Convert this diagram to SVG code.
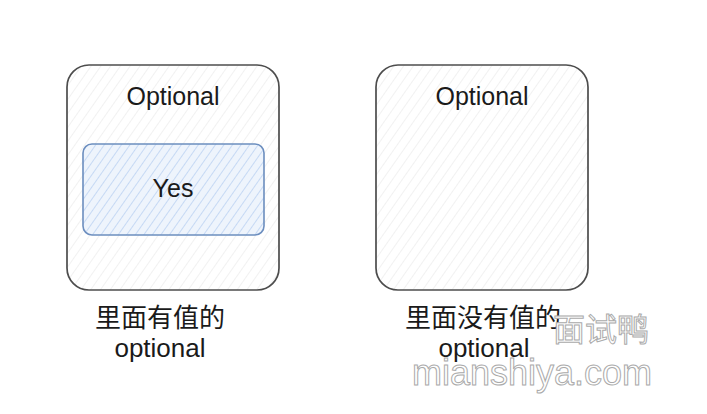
<svg xmlns="http://www.w3.org/2000/svg" width="707" height="414" viewBox="0 0 707 414">
<style>
.t{font-family:"Liberation Sans",Arial,"Noto Sans CJK SC",sans-serif;fill:#1a1a1a;text-anchor:middle}
.outer{fill:url(#hatchG);stroke:#4d4d4d;stroke-width:1.7}
.wm{font-family:"Liberation Sans",Arial,"Noto Sans CJK SC",sans-serif;fill:#fff;stroke:#aaa;stroke-width:1;text-anchor:middle}
</style>
<defs>
<pattern id="hatchG" patternUnits="userSpaceOnUse" width="8" height="8" patternTransform="rotate(35)">
<rect width="8" height="8" fill="#fff"/>
<line x1="0" y1="0" x2="0" y2="8" stroke="#ebebeb" stroke-width="1.4"/>
</pattern>
<pattern id="hatchB" patternUnits="userSpaceOnUse" width="7" height="7" patternTransform="rotate(35)">
<rect width="7" height="7" fill="#eef4fc"/>
<line x1="0" y1="0" x2="0" y2="7" stroke="#bcd3f2" stroke-width="1.6"/>
</pattern>
</defs>
<g id="opt-yes">
<rect class="outer" x="67" y="65" width="212" height="225" rx="22"/>
<text class="t" x="173" y="105" font-size="25">Optional</text>
</g>
<g id="yes">
<rect x="83" y="144" width="181" height="91" rx="9" fill="url(#hatchB)" stroke="#6c8ebf" stroke-width="1.6"/>
<text class="t" x="173" y="197" font-size="25">Yes</text>
</g>
<g id="opt-empty">
<rect class="outer" x="376" y="65" width="212" height="225" rx="22"/>
<text class="t" x="482" y="105" font-size="25">Optional</text>
</g>
<g id="label-left">
<text class="t" x="160" y="327" font-size="26">里面有值的</text>
<text class="t" x="160" y="357" font-size="26">optional</text>
</g>
<g id="label-right">
<text class="t" x="483" y="327" font-size="26">里面没有值的</text>
<text class="t" x="484" y="357" font-size="26">optional</text>
</g>
<g id="connectors"/>
<g id="watermark">
<text class="wm" x="601" y="341" font-size="32">面试鸭</text>
<text class="wm" x="532" y="385" font-size="36">mianshiya.com</text>
</g>
</svg>
